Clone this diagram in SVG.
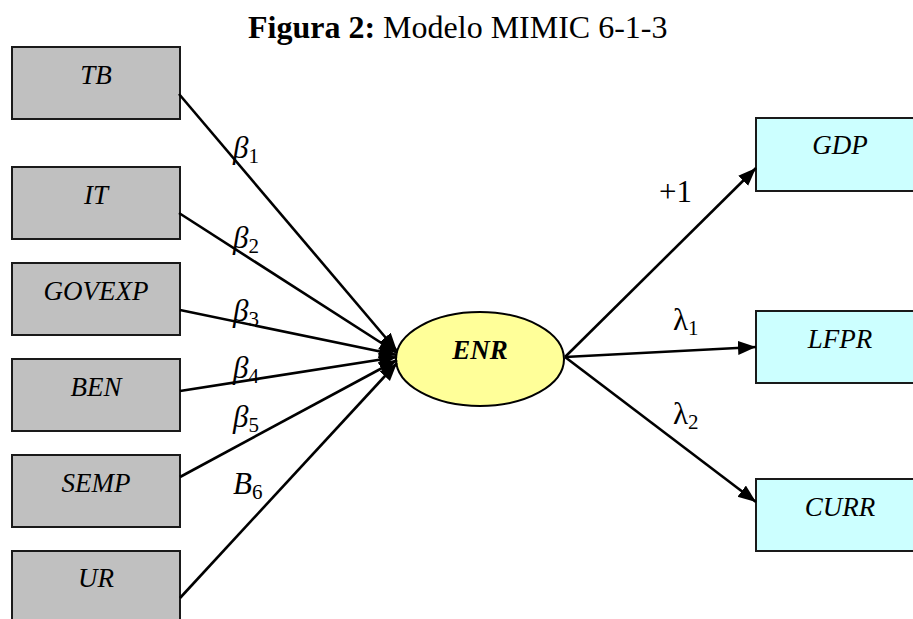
<svg xmlns="http://www.w3.org/2000/svg" width="913" height="619" viewBox="0 0 913 619">
  <defs>
    <marker id="arrow" markerUnits="userSpaceOnUse" markerWidth="20" markerHeight="16" refX="18" refY="7" orient="auto">
      <path d="M0,0 L18,7 L0,14 z" fill="#000"/>
    </marker>
  </defs>
  <style>
    .cause { fill: #C0C0C0; stroke: #1a1a1a; stroke-width: 2; }
    .indic { fill: #CCFFFF; stroke: #1a1a1a; stroke-width: 2; }
    .latent { fill: #FFFF99; stroke: #000; stroke-width: 2; }
    .lbl { font-family: "Liberation Serif", "Times New Roman", serif; font-style: italic; font-size: 27px; text-anchor: middle; fill: #000; }
    .edge { stroke: #000; stroke-width: 2.6; fill: none; marker-end: url(#arrow); }
    .coef { font-family: "Liberation Serif", "Times New Roman", serif; font-size: 31px; fill: #000; }
    .sub { font-size: 21px; font-style: normal; }
    .title { font-family: "Liberation Serif", "Times New Roman", serif; font-size: 32px; fill: #000; }
  </style>

  <text class="title" x="248" y="38"><tspan font-weight="bold">Figura 2:</tspan> Modelo MIMIC 6-1-3</text>

  <!-- causes -->
  <g id="TB"><rect class="cause" x="12" y="47" width="168" height="72"/><text class="lbl" x="96" y="84">TB</text></g>
  <g id="IT"><rect class="cause" x="12" y="167" width="168" height="72"/><text class="lbl" x="96" y="204">IT</text></g>
  <g id="GOVEXP"><rect class="cause" x="12" y="263" width="168" height="72"/><text class="lbl" x="96" y="300">GOVEXP</text></g>
  <g id="BEN"><rect class="cause" x="12" y="359" width="168" height="72"/><text class="lbl" x="96" y="396">BEN</text></g>
  <g id="SEMP"><rect class="cause" x="12" y="455" width="168" height="72"/><text class="lbl" x="96" y="492">SEMP</text></g>
  <g id="UR"><rect class="cause" x="12" y="551" width="168" height="72"/><text class="lbl" x="96" y="587">UR</text></g>

  <!-- latent variable -->
  <g id="ENR"><ellipse class="latent" cx="480" cy="359" rx="84" ry="47"/><text class="lbl" x="480" y="359" font-weight="bold">ENR</text></g>

  <!-- indicators -->
  <g id="GDP"><rect class="indic" x="756" y="118" width="170" height="73"/><text class="lbl" x="840" y="154">GDP</text></g>
  <g id="LFPR"><rect class="indic" x="756" y="311" width="170" height="72"/><text class="lbl" x="840" y="348">LFPR</text></g>
  <g id="CURR"><rect class="indic" x="756" y="479" width="170" height="72"/><text class="lbl" x="840" y="516">CURR</text></g>

  <g id="connectors">
    <line class="edge" x1="179" y1="94" x2="397" y2="351"/>
    <line class="edge" x1="179" y1="213" x2="397" y2="353"/>
    <line class="edge" x1="180" y1="310" x2="397" y2="355"/>
    <line class="edge" x1="180" y1="391" x2="397" y2="357"/>
    <line class="edge" x1="180" y1="477" x2="397" y2="360"/>
    <line class="edge" x1="180" y1="598" x2="397" y2="363"/>
    <line class="edge" x1="565" y1="357" x2="756" y2="168"/>
    <line class="edge" x1="565" y1="357" x2="756" y2="347"/>
    <line class="edge" x1="565" y1="357" x2="756" y2="502"/>
  </g>

  <g id="labels">
    <text class="coef" x="233" y="158" font-style="italic">β<tspan class="sub" dy="5">1</tspan></text>
    <text class="coef" x="233" y="248" font-style="italic">β<tspan class="sub" dy="5">2</tspan></text>
    <text class="coef" x="233" y="321" font-style="italic">β<tspan class="sub" dy="5">3</tspan></text>
    <text class="coef" x="233" y="378" font-style="italic">β<tspan class="sub" dy="5">4</tspan></text>
    <text class="coef" x="233" y="427" font-style="italic">β<tspan class="sub" dy="5">5</tspan></text>
    <text class="coef" x="233" y="494" font-style="italic">B<tspan class="sub" dy="5">6</tspan></text>
    <text class="coef" x="659" y="202" font-size="26">+1</text>
    <text class="coef" x="673" y="330">λ<tspan class="sub" dy="5">1</tspan></text>
    <text class="coef" x="673" y="424">λ<tspan class="sub" dy="5">2</tspan></text>
  </g>
</svg>
